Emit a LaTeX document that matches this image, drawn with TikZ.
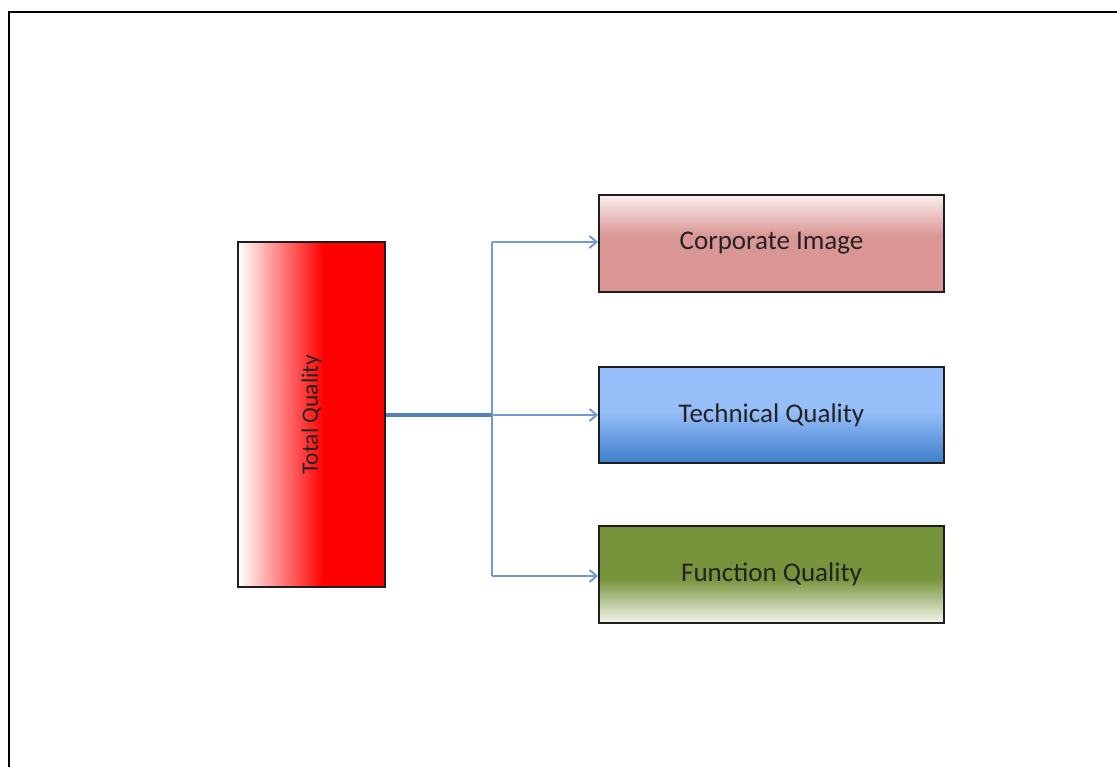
\documentclass[tikz,border=0pt]{standalone}
\usepackage{fontspec}
\setmainfont{Carlito}
\usetikzlibrary{arrows.meta}
\definecolor{corppink}{RGB}{217,150,148}
\definecolor{corptop}{RGB}{250,238,238}
\definecolor{techlight}{RGB}{150,190,248}
\definecolor{techdark}{RGB}{62,126,204}
\definecolor{funcgreen}{RGB}{119,147,60}
\definecolor{funcbot}{RGB}{244,246,238}
\definecolor{tqred}{RGB}{255,0,0}
\definecolor{connblue}{RGB}{115,155,210}
\definecolor{connthick}{RGB}{85,128,190}
\definecolor{txtcol}{RGB}{35,35,35}
\definecolor{boxline}{RGB}{30,30,30}
\pgfdeclareverticalshading{corpshade}{100bp}{color(0bp)=(corppink); color(25bp)=(corppink); color(54bp)=(corppink); color(75bp)=(corptop); color(100bp)=(corptop)}
\pgfdeclareverticalshading{techshade}{100bp}{color(0bp)=(techdark); color(25bp)=(techdark); color(52bp)=(techlight); color(75bp)=(techlight); color(100bp)=(techlight)}
\pgfdeclareverticalshading{funcshade}{100bp}{color(0bp)=(funcbot); color(25bp)=(funcbot); color(48bp)=(funcgreen); color(75bp)=(funcgreen); color(100bp)=(funcgreen)}
\pgfdeclarehorizontalshading{tqshade}{100bp}{color(0bp)=(white); color(25bp)=(white); color(54bp)=(tqred); color(75bp)=(tqred); color(100bp)=(tqred)}
\tikzset{
  box/.style={draw=boxline, line width=1.8pt, rectangle, inner sep=0pt,
    minimum width=345pt, minimum height=97pt, text=txtcol,
    font=\fontsize{27}{31}\selectfont},
  txt/.style={text=txtcol, font=\fontsize{23.5}{27}\selectfont, inner sep=0pt},
  conn/.style={draw=connblue, line width=2.5pt, -{Straight Barb[length=7pt,width=12pt,line width=2pt]}},
  connline/.style={draw=connblue, line width=2.5pt},
  trunk/.style={draw=connthick, line width=3.5pt},
}
\begin{document}
\begin{tikzpicture}[x=1pt,y=-1pt]
\useasboundingbox (0,0) rectangle (1117,767);
% outer frame (left and top edges visible)
\draw[line width=2pt, black] (9,767) -- (9,12.5) -- (1117,12.5);
% boxes
\node[box, shading=tqshade, minimum width=147pt, minimum height=345pt] (tq) at (311.5,414.5) {};
\node[txt, rotate=90] (tqlabel) at (tq.center) {Total Quality};
\node[box, shading=corpshade] (ci) at (771.5,243.5) {Corporate Image};
\node[box, shading=techshade, minimum height=96pt] (tech) at (771.5,415) {Technical Quality};
\node[box, shading=funcshade] (fq) at (771.5,574.5) {Function Quality};
% connectors
\coordinate (j) at (492,415);
\coordinate (jt) at (492,242);
\coordinate (jb) at (492,576);
\draw[connline] (jt) -- (jb);
\draw[conn] (jt) -- (ci.west |- jt);
\draw[conn] (j) -- (tech.west);
\draw[conn] (jb) -- (fq.west |- jb);
\draw[trunk] (tq.east |- j) -- (j);
\end{tikzpicture}
\end{document}
